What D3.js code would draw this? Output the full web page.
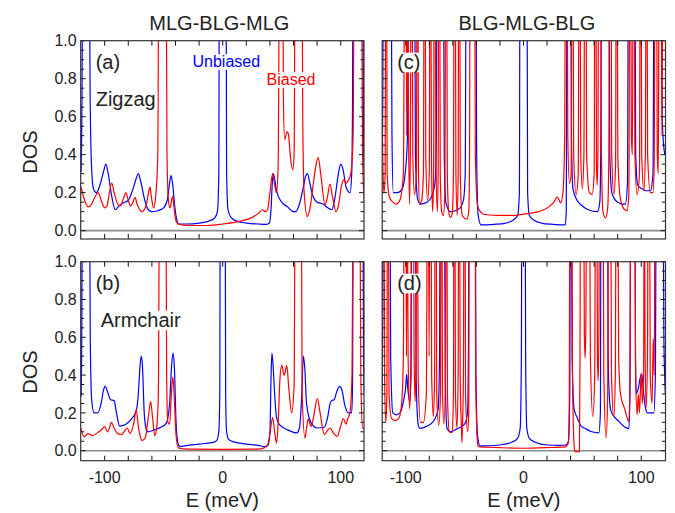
<!DOCTYPE html>
<html><head><meta charset="utf-8">
<script src="https://cdn.jsdelivr.net/npm/d3@7"></script>
<style>body{margin:0;background:#fff}svg{display:block}text{font-family:"Liberation Sans",Arial,sans-serif;fill:#222}</style>
</head><body><svg id="c" width="675" height="513"></svg>
<script>
// ---- data: [E (meV), DOS] ----
const zigzagUnbiased = [[-120,0.31],[-119.2,0.7],[-118.6,1.6],[-113.2,1.6],[-112.3,0.7],[-111,0.32],[-109.5,0.22],[-107,0.2],[-104,0.24],[-101,0.31],[-99,0.35],[-97,0.3],[-94,0.18],[-91,0.11],[-88,0.13],[-84.5,0.145],[-80,0.16],[-76,0.22],[-73,0.28],[-71.5,0.3],[-69.5,0.26],[-66,0.16],[-63,0.11],[-60,0.1],[-55,0.105],[-50,0.12],[-47,0.16],[-45,0.25],[-43.8,0.29],[-42.5,0.25],[-40.5,0.12],[-39,0.06],[-37.5,0.035],[-30,0.035],[-20,0.04],[-12,0.05],[-7,0.065],[-4.5,0.1],[-3.3,0.3],[-2.8,1.6],[2.8,1.6],[3.3,0.3],[4.5,0.11],[7,0.07],[12,0.05],[20,0.04],[30,0.035],[37,0.033],[39.5,0.04],[41,0.12],[42,0.25],[42.9,0.3],[44,0.27],[46,0.2],[50,0.15],[55,0.125],[60,0.1],[62,0.1],[65,0.14],[68,0.22],[70.5,0.29],[71.7,0.3],[73.5,0.26],[76,0.19],[80,0.15],[85,0.14],[89,0.12],[92.4,0.11],[95,0.17],[98,0.3],[100,0.35],[102,0.32],[104.5,0.23],[107.9,0.2],[109.3,0.3],[110,0.7],[110.5,1.6],[118.5,1.6],[119.2,0.6],[120,0.3]];
const zigzagBiased = [[-120,0.23],[-117,0.16],[-114,0.125],[-111,0.14],[-108,0.18],[-105.5,0.2],[-103,0.16],[-100,0.12],[-98,0.13],[-96,0.2],[-94,0.25],[-92,0.2],[-89,0.14],[-87,0.13],[-84,0.17],[-82,0.2],[-80,0.16],[-78,0.13],[-76,0.15],[-74.3,0.175],[-72.5,0.14],[-68.6,0.1],[-65,0.13],[-62.5,0.21],[-61.6,0.23],[-60.5,0.18],[-58.5,0.12],[-56.5,0.2],[-55,0.4],[-54,1.6],[-48,1.6],[-47.2,0.4],[-46,0.16],[-44.7,0.12],[-43.2,0.16],[-42.4,0.18],[-41.2,0.12],[-39.5,0.05],[-37,0.033],[-30,0.028],[-13,0.027],[0,0.035],[15,0.05],[25,0.07],[31,0.095],[33.5,0.11],[36,0.1],[38,0.11],[40,0.2],[42.3,0.3],[44,0.24],[45.6,0.2],[47,0.35],[48.2,1.6],[50.8,1.6],[51.4,0.7],[52.5,0.48],[54.5,0.52],[55.6,0.51],[57.5,0.38],[59.3,0.32],[60.5,0.4],[61.5,1.6],[67,1.6],[67.8,0.6],[69,0.2],[71.7,0.075],[74,0.12],[77,0.26],[79.5,0.36],[81,0.385],[83,0.3],[86.7,0.137],[88.5,0.17],[90.9,0.245],[93,0.18],[96,0.1],[98,0.13],[100.5,0.23],[102.8,0.27],[104.5,0.25],[106,0.26],[108.5,0.3],[110.5,0.5],[111.5,1.6],[117.5,1.6],[118.5,0.4],[120,0.15]];
const armchairUnbiased = [[-120,0.286],[-119.4,0.6],[-118.8,1.6],[-113,1.6],[-112.2,0.6],[-111,0.27],[-109,0.2],[-106,0.2],[-103,0.25],[-101,0.32],[-99.5,0.34],[-97.5,0.31],[-95,0.27],[-92,0.265],[-90,0.2],[-87.3,0.13],[-82,0.14],[-77,0.17],[-73.2,0.21],[-71.5,0.3],[-70,0.45],[-69,0.5],[-68,0.45],[-66.5,0.2],[-65,0.12],[-63.3,0.1],[-58,0.11],[-52,0.125],[-47.8,0.146],[-45,0.25],[-43.3,0.45],[-42.1,0.517],[-41,0.45],[-39.5,0.15],[-38,0.04],[-36.4,0.023],[-30,0.028],[-20,0.035],[-12,0.04],[-8,0.044],[-5,0.055],[-3.3,0.1],[-2.5,0.3],[-2,1.6],[2,1.6],[2.5,0.3],[3.3,0.1],[5,0.06],[10,0.045],[20,0.035],[30,0.028],[36,0.021],[38.5,0.03],[40,0.1],[41,0.4],[41.7,0.517],[42.7,0.45],[44,0.3],[45.5,0.18],[47.7,0.14],[55,0.11],[62.7,0.094],[65,0.12],[67,0.3],[68.3,0.5],[69.5,0.44],[71,0.25],[74.7,0.15],[80,0.12],[86,0.124],[89,0.18],[91,0.25],[92.4,0.265],[94.5,0.27],[96.5,0.31],[99,0.34],[101,0.32],[103.5,0.24],[106.5,0.2],[109.3,0.2],[110,0.35],[110.7,1.6],[118.6,1.6],[119.3,0.5],[120,0.3]];
const armchairBiased = [[-120,0.118],[-117.6,0.074],[-116,0.08],[-114,0.09],[-112,0.085],[-110.6,0.08],[-105,0.1],[-102,0.115],[-100,0.127],[-97.5,0.1],[-95.5,0.13],[-94.4,0.15],[-92,0.12],[-89.8,0.095],[-86,0.085],[-83,0.105],[-80.9,0.12],[-78.5,0.09],[-75.5,0.14],[-73.2,0.217],[-71.5,0.13],[-70,0.08],[-68.4,0.053],[-65.5,0.07],[-63,0.18],[-61,0.26],[-59.5,0.18],[-57.6,0.08],[-56,0.12],[-54.5,0.3],[-53.4,1.6],[-48.2,1.6],[-47.5,0.4],[-46.5,0.15],[-45,0.14],[-43.5,0.3],[-42.3,0.39],[-41.2,0.3],[-39.5,0.08],[-37.6,0.015],[-30,0.008],[0,0.007],[30,0.008],[35,0.015],[38,0.03],[40,0.09],[42.3,0.175],[44,0.1],[45.6,0.04],[47,0.15],[48.5,0.38],[50,0.453],[52,0.4],[54.3,0.45],[56,0.33],[58.5,0.2],[60.5,0.35],[61.5,1.6],[66.5,1.6],[67.3,0.3],[69.7,0.067],[71,0.12],[72.5,0.168],[74,0.14],[75,0.129],[77,0.18],[80.2,0.275],[82.5,0.2],[86.1,0.085],[88,0.1],[91,0.12],[94,0.09],[97.1,0.076],[99.5,0.12],[102.2,0.17],[104.5,0.14],[106,0.17],[107.9,0.205],[109.5,0.4],[110.7,1.6],[116,1.6],[117,0.4],[118.5,0.12],[120,0.118]];
const blgUnbiasedTop = [[-120,0.4],[-119.5,0.7],[-119,1.6],[-112.5,1.6],[-111.7,0.5],[-110.6,0.2],[-107,0.2],[-103,0.22],[-100.5,0.3],[-98.5,0.5],[-97.5,1.6],[-92.5,1.6],[-91.8,0.4],[-90,0.17],[-87.8,0.14],[-82,0.15],[-78,0.18],[-75,0.26],[-74,0.5],[-73.3,1.6],[-68,1.6],[-67.3,0.4],[-66,0.15],[-62.2,0.1],[-58,0.105],[-53.7,0.12],[-51,0.16],[-49.5,0.3],[-48.6,1.6],[-40.5,1.6],[-39.8,0.4],[-38.5,0.08],[-36,0.03],[-25,0.033],[-15,0.04],[-9,0.055],[-5,0.08],[-3.5,0.2],[-2.9,1.6],[2.9,1.6],[3.5,0.2],[5,0.08],[9,0.055],[15,0.04],[25,0.033],[35.4,0.03],[36.3,0.1],[37,1.6],[40,1.6],[40.7,0.5],[42,0.22],[45.5,0.16],[50,0.13],[55,0.11],[62.8,0.1],[64.8,0.15],[65.6,0.4],[66.3,1.6],[72.5,1.6],[73.3,0.4],[75,0.2],[77,0.17],[80,0.15],[83.8,0.14],[86.5,0.14],[88.3,0.25],[89.2,1.6],[94.5,1.6],[95.3,0.4],[97,0.24],[100.6,0.22],[104,0.21],[107.8,0.21],[110,0.3],[111,1.6],[117,1.6],[117.8,0.6],[119,0.45],[120,0.4]];
const blgBiasedTop = [[-120,0.6],[-119.3,0.3],[-118.5,0.2],[-117.5,0.3],[-117,1.6],[-116.3,1.6],[-115.8,0.3],[-114,0.18],[-111,0.15],[-108,0.14],[-105,0.16],[-102,0.3],[-100.8,1.6],[-99.8,1.6],[-99.2,0.5],[-98.6,1.6],[-97.6,0.5],[-96.8,0.14],[-96,0.5],[-95.4,1.6],[-94.6,1.6],[-94,0.4],[-92.5,0.19],[-91,0.3],[-90.3,1.6],[-89.7,1.6],[-89.2,0.3],[-88.2,0.14],[-86.5,0.16],[-85,0.3],[-84.3,1.6],[-83.6,1.6],[-83,0.4],[-81.5,0.16],[-80,0.3],[-79.4,1.6],[-78.8,1.6],[-78.2,0.4],[-77.2,0.1],[-76.3,0.3],[-75.8,1.6],[-75,1.6],[-74.4,0.4],[-73.2,0.1],[-72.5,0.3],[-72,1.6],[-71.2,1.6],[-70.7,0.3],[-69.5,0.1],[-68,0.08],[-66.8,0.2],[-66,1.6],[-65.3,1.6],[-64.7,0.3],[-63.5,0.1],[-62,0.07],[-60.5,0.09],[-59.5,0.3],[-58.8,1.6],[-58,1.6],[-57.4,0.3],[-56.3,0.08],[-55.5,0.3],[-55,1.6],[-54.2,1.6],[-53.7,0.3],[-52,0.08],[-48,0.06],[-46.5,0.1],[-45.8,0.4],[-45.4,1.6],[-41.5,1.6],[-40.9,0.4],[-39,0.13],[-36,0.095],[-33,0.085],[-20,0.08],[-10,0.08],[0,0.087],[13,0.1],[21.5,0.125],[25.7,0.15],[28.6,0.176],[30,0.165],[31.5,0.146],[33.5,0.2],[35,0.5],[35.7,1.6],[37,1.6],[37.6,0.5],[39,0.25],[40.5,0.3],[41.2,1.6],[42,1.6],[42.6,0.4],[44.7,0.19],[46.5,0.3],[47.2,1.6],[48,1.6],[48.6,0.4],[50,0.22],[51.3,0.4],[52,1.6],[53,1.6],[53.6,0.4],[56,0.2],[58.3,0.19],[60,0.3],[60.7,1.6],[61.4,1.6],[62,0.35],[62.5,0.24],[63.2,0.4],[63.8,1.6],[65.5,1.6],[66.2,0.4],[67.5,0.1],[69.6,0.067],[71.5,0.12],[72.5,0.4],[73,1.6],[74.3,1.6],[74.9,0.4],[76.8,0.19],[78.2,0.35],[78.8,1.6],[79.5,1.6],[80.1,0.4],[82,0.18],[84,0.13],[86,0.11],[88,0.105],[89.5,0.2],[90.3,1.6],[91,1.6],[91.6,0.5],[92.5,0.4],[93.2,1.6],[94,1.6],[94.6,0.4],[96.5,0.19],[98.5,0.3],[99.2,1.6],[99.8,1.6],[100.4,0.4],[102.2,0.21],[103.5,0.4],[104.2,1.6],[104.8,1.6],[105.4,0.4],[107.8,0.2],[110,0.2],[111,0.35],[111.7,1.6],[113,1.6],[113.6,0.4],[114.5,0.3],[115.2,1.6],[117,1.6],[117.6,0.5],[118.5,1.6],[120.5,1.6]];
const blgUnbiasedBottom = [[-120,0.3],[-119.5,0.7],[-119,1.6],[-113.5,1.6],[-112.8,0.5],[-111,0.2],[-108,0.19],[-105,0.2],[-102,0.26],[-100,0.34],[-99.2,0.404],[-98.3,0.33],[-96.5,0.26],[-95.5,0.4],[-95,1.6],[-91.8,1.6],[-91.2,0.4],[-89.5,0.14],[-88,0.118],[-82,0.13],[-76,0.16],[-72.5,0.22],[-71.3,0.5],[-70.7,1.6],[-67.2,1.6],[-66.5,0.4],[-65,0.12],[-62.2,0.1],[-55,0.12],[-50,0.14],[-47.5,0.2],[-46.8,0.5],[-46.3,1.6],[-41,1.6],[-40.4,0.4],[-39,0.08],[-36.8,0.025],[-20,0.03],[-10,0.045],[-5,0.065],[-2.8,0.12],[-1.8,0.5],[-1.3,1.6],[1.3,1.6],[1.8,0.5],[2.8,0.12],[5,0.065],[10,0.045],[20,0.03],[30,0.028],[36,0.03],[38.2,0.05],[39.3,0.3],[39.8,1.6],[40.7,1.6],[41.3,0.5],[43,0.22],[45.6,0.175],[49,0.13],[52.6,0.117],[58,0.1],[64,0.094],[65.3,0.2],[65.9,1.6],[71.3,1.6],[71.9,0.5],[72.8,0.3],[74,0.217],[77,0.18],[81,0.155],[86,0.125],[89.5,0.117],[90.4,0.3],[91,1.6],[94.5,1.6],[95.1,0.5],[95.8,0.3],[97.5,0.33],[99.3,0.39],[100.5,0.405],[101.8,0.32],[103.5,0.23],[105,0.2],[108,0.2],[110.7,0.2],[112,0.4],[112.8,1.6],[118.5,1.6],[119.2,0.6],[120.5,0.3]];
const blgBiasedBottom = [[-120,0.5],[-119.5,1.6],[-118.5,1.6],[-118,0.4],[-117,0.15],[-116,0.3],[-115.5,1.6],[-114.8,1.6],[-114.2,0.3],[-112,0.17],[-109,0.16],[-106,0.17],[-103.5,0.25],[-102,0.5],[-101.3,1.6],[-100,1.6],[-99.4,0.5],[-98.8,1.6],[-98,0.5],[-96.6,0.22],[-95.6,0.5],[-95,1.6],[-93.5,1.6],[-92.9,0.5],[-92,0.26],[-91.3,0.5],[-90.8,1.6],[-90.1,1.6],[-89.5,0.4],[-87.5,0.15],[-85,0.15],[-82.5,0.3],[-81.5,1.6],[-80.7,1.6],[-80.2,0.5],[-79.5,1.6],[-78.6,1.6],[-78,0.4],[-76.5,0.18],[-75.5,0.4],[-75,1.6],[-74.2,1.6],[-73.7,0.3],[-72,0.135],[-70.5,0.3],[-70,1.6],[-69.4,1.6],[-68.8,0.3],[-67.5,0.14],[-66.3,0.4],[-65.8,1.6],[-65.2,1.6],[-64.6,0.3],[-63,0.1],[-60.5,0.095],[-59.5,0.3],[-59,1.6],[-58.3,1.6],[-57.8,0.3],[-56.5,0.12],[-55.5,0.4],[-55,1.6],[-54.3,1.6],[-53.8,0.4],[-52.6,0.1],[-52.3,0.044],[-52,0.1],[-51,0.4],[-50.5,1.6],[-49.7,1.6],[-49.2,0.3],[-47.5,0.1],[-46.5,0.2],[-46,1.6],[-41.2,1.6],[-40.6,0.4],[-39.2,0.05],[-38.4,0.021],[-20,0.016],[0,0.013],[20,0.016],[35,0.02],[38,0.04],[38.8,0.2],[39.5,1.6],[40.8,1.6],[41.6,0.4],[42.8,0.05],[43.6,-0.005],[47.5,-0.005],[48,0.5],[48.4,1.6],[51,1.6],[51.7,0.6],[52.4,0.49],[53,0.7],[53.6,1.6],[56,1.6],[56.8,0.5],[58.9,0.18],[60.5,0.4],[61.2,1.6],[62.2,1.6],[62.8,0.5],[63.4,0.37],[64,0.6],[64.6,1.6],[67.5,1.6],[68.2,0.4],[70.2,0.067],[71.5,0.3],[72.2,1.6],[74,1.6],[74.7,0.4],[76.7,0.18],[78,0.4],[78.7,1.6],[80,1.6],[80.8,0.5],[82.4,0.3],[86,0.22],[89.5,0.155],[90.5,0.4],[91.2,1.6],[94.5,1.6],[95.2,0.4],[96.5,0.19],[97.5,0.3],[98.5,0.2],[99.9,0.41],[101,0.25],[102,0.4],[102.6,1.6],[103.2,0.57],[104.2,0.23],[105.3,0.5],[105.9,1.6],[107,1.6],[107.6,0.4],[109.2,0.25],[110.2,0.59],[111,0.4],[111.8,1.6],[120.5,1.6]];

const xTickValues = d3.range(-100, 101, 20);
const xTickLabels = [-100, 0, 100];
const yMajorTicks = [0, 0.2, 0.4, 0.6, 0.8, 1.0];
const yMinorTicks = d3.range(0, 1.0001, 0.05);
const columnTitles = ["MLG-BLG-MLG", "BLG-MLG-BLG"];
const panelLetters = ["(a)", "(b)", "(c)", "(d)"];
const rowLabels = ["Zigzag", "Armchair"];
const seriesNames = ["Unbiased", "Biased"];

// ---- layout ----
const svg = d3.select("#c");
const cols = [{x0:80.7, x1:364, dom:[-120.3,119.7]}, {x0:382.2, x1:665.5, dom:[-120,120.6]}];
const rows = [{y0:40.7, y1:239, dom:[-0.044,1.0]}, {y0:261.7, y1:460.7, dom:[-0.053,1.0]}];
const panels = [
  {c:0,r:0,u:zigzagUnbiased,b:zigzagBiased,letter:panelLetters[0]},
  {c:0,r:1,u:armchairUnbiased,b:armchairBiased,letter:panelLetters[1]},
  {c:1,r:0,u:blgUnbiasedTop,b:blgBiasedTop,letter:panelLetters[2]},
  {c:1,r:1,u:blgUnbiasedBottom,b:blgBiasedBottom,letter:panelLetters[3]}
];

const labelLayer = [];
function boxedText(x, y, txt, size, color) { labelLayer.push({x, y, txt, size, color}); }

panels.forEach((p,i)=>{
  const C = cols[p.c], R = rows[p.r];
  const x = d3.scaleLinear().domain(C.dom).range([C.x0, C.x1]);
  const y = d3.scaleLinear().domain(R.dom).range([R.y1, R.y0]);
  const g = svg.append("g");
  const cid = "clip"+i;
  svg.append("defs").append("clipPath").attr("id",cid).append("rect")
    .attr("x",C.x0).attr("y",R.y0).attr("width",C.x1-C.x0).attr("height",R.y1-R.y0);
  const line = d3.line().x(d=>x(d[0])).y(d=>y(d[1])).curve(d3.curveMonotoneX);
  const cg = g.append("g").attr("clip-path",`url(#${cid})`);
  cg.append("line").attr("x1",C.x0).attr("x2",C.x1).attr("y1",y(0)).attr("y2",y(0))
    .attr("stroke","#8a8a8a").attr("stroke-width",1.6);
  cg.append("path").datum(p.u).attr("d",line).attr("fill","none").attr("stroke","#0000ff").attr("stroke-width",1.2);
  cg.append("path").datum(p.b).attr("d",line).attr("fill","none").attr("stroke","#ff0000").attr("stroke-width",1.2);

  boxedText(C.x0+15, R.y0+28, p.letter, 20);
  if (p.c===0) boxedText(C.x0+(p.r===0?15:20), R.y0+65, rowLabels[p.r], 20);
  if (i===0) {
    boxedText(192.5, 67, seriesNames[0], 16, "#0000ff");
    boxedText(266.5, 85, seriesNames[1], 16, "#ff0000");
  }

  const tk = g.append("g").attr("stroke","#111").attr("stroke-width",1);
  yMinorTicks.forEach(v=>{
    const major = yMajorTicks.some(m=>Math.abs(m-v)<1e-6);
    const L = major?5:3.5, yy = y(v);
    tk.append("line").attr("x1",C.x0).attr("x2",C.x0+L).attr("y1",yy).attr("y2",yy);
    tk.append("line").attr("x1",C.x1).attr("x2",C.x1-L).attr("y1",yy).attr("y2",yy);
  });
  xTickValues.forEach(v=>{
    const xx = x(v);
    tk.append("line").attr("x1",xx).attr("x2",xx).attr("y1",R.y1).attr("y2",R.y1-5);
    tk.append("line").attr("x1",xx).attr("x2",xx).attr("y1",R.y0).attr("y2",R.y0+5);
  });
  g.append("rect").attr("x",C.x0).attr("y",R.y0).attr("width",C.x1-C.x0).attr("height",R.y1-R.y0)
    .attr("fill","none").attr("stroke","#333").attr("stroke-width",1.2);

  if (p.c===0) {
    yMajorTicks.forEach(v=>{
      g.append("text").attr("x",C.x0-4).attr("y",y(v)).attr("dy","0.36em")
        .attr("text-anchor","end").attr("font-size",16).text(v.toFixed(1));
    });
    g.append("text").attr("transform",`translate(37,${p.r===0?152:372}) rotate(-90)`)
      .attr("text-anchor","middle").attr("font-size",20).text("DOS");
  }
  if (p.r===1) {
    xTickLabels.forEach(v=>{
      g.append("text").attr("x",x(v)).attr("y",483).attr("text-anchor","middle")
        .attr("font-size",16).text(v);
    });
    g.append("text").attr("x",(C.x0+C.x1)/2).attr("y",507).attr("text-anchor","middle")
      .attr("font-size",20).text("E (meV)");
  }
  if (p.r===0) {
    g.append("text").attr("x",(C.x0+C.x1)/2 + (p.c===0?-3:3)).attr("y",30).attr("text-anchor","middle")
      .attr("font-size",20).text(columnTitles[p.c]);
  }
});

// in-panel labels on a top layer, each on a white box
const lab = svg.append("g");
labelLayer.forEach(d=>{
  const t = lab.append("text").attr("x",d.x).attr("y",d.y).attr("font-size",d.size).text(d.txt);
  if (d.color) t.style("fill", d.color);
  const w = t.node().getComputedTextLength();
  lab.insert("rect", () => t.node())
    .attr("x", d.x-1.5).attr("y", d.y-d.size*0.8).attr("width", w+3).attr("height", d.size*0.98)
    .attr("fill","#ffffff").attr("stroke","none");
});
</script></body></html>
